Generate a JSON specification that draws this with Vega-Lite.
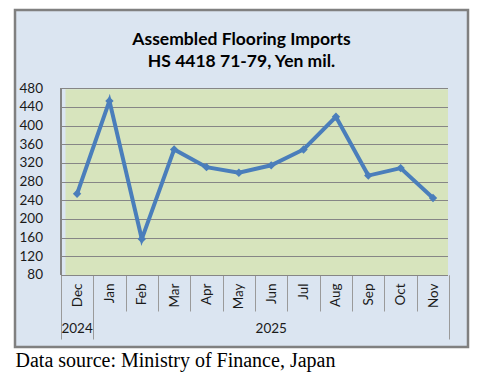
{
  "$schema": "https://vega.github.io/schema/vega-lite/v6.json",
  "width": 453,
  "height": 337,
  "autosize": {"type": "none"},
  "padding": {"left": 15, "top": 10, "right": 12, "bottom": 30},
  "background": "white",
  "config": {
    "view": {"fill": "#dbe5f1", "stroke": "#808080", "strokeWidth": 2.5},
    "axis": {"labelFont": "Lato", "labelFontSize": 13.5, "labelColor": "#1a1a1a", "grid": false, "domain": false}
  },
  "title": {
    "text": ["Assembled Flooring Imports", "HS 4418 71-79, Yen mil."],
    "font": "Lato",
    "fontSize": 17.5,
    "fontWeight": "bold",
    "color": "#000000",
    "anchor": "middle",
    "frame": "group",
    "lineHeight": 21.5,
    "offset": -60
  },
  "data": {
    "values": [
      {"month": "Dec", "value": 254},
      {"month": "Jan", "value": 453},
      {"month": "Feb", "value": 157},
      {"month": "Mar", "value": 349},
      {"month": "Apr", "value": 311},
      {"month": "May", "value": 299},
      {"month": "Jun", "value": 315},
      {"month": "Jul", "value": 349},
      {"month": "Aug", "value": 419},
      {"month": "Sep", "value": 293},
      {"month": "Oct", "value": 309},
      {"month": "Nov", "value": 245}
    ]
  },
  "layer": [
    {
      "mark": {"type": "rule", "color": "#868686", "strokeWidth": 1},
      "encoding": {
        "x": {
          "datum": "Dec",
          "type": "ordinal",
          "bandPosition": 0,
          "axis": {
            "orient": "bottom",
            "values": ["Dec", "Nov"],
            "tickBand": "extent",
            "offset": -72,
            "tickSize": 64,
            "tickColor": "#9a9a9a",
            "labels": false,
            "title": "Data source: Ministry of Finance, Japan",
            "titleFont": "Liberation Serif",
            "titleFontSize": 20,
            "titleFontWeight": "normal",
            "titleColor": "#000000",
            "titleAnchor": "start",
            "titleAlign": "left",
            "titleBaseline": "alphabetic",
            "titleX": 0,
            "titleY": 91.5
          }
        },
        "y": {
          "datum": 80,
          "type": "quantitative",
          "axis": {
            "orient": "left",
            "values": [280],
            "offset": -50,
            "tickSize": -382.5,
            "tickWidth": 186.7,
            "tickColor": "#d7e4bd",
            "tickCap": "butt",
            "labels": false,
            "title": null
          }
        },
        "y2": {"datum": 480}
      }
    },
    {
      "mark": {"type": "line", "color": "#4a7ebb", "strokeWidth": 4},
      "encoding": {
        "x": {
          "field": "month",
          "type": "ordinal",
          "scale": {
            "type": "band",
            "domain": ["Dec", "Jan", "Feb", "Mar", "Apr", "May", "Jun", "Jul", "Aug", "Sep", "Oct", "Nov"],
            "paddingInner": 0,
            "paddingOuter": 1.1059,
            "align": 0.7092
          },
          "axis": {
            "orient": "bottom",
            "offset": -72,
            "tickBand": "extent",
            "tickSize": 36,
            "tickColor": "#9a9a9a",
            "labelAngle": -90,
            "labelPadding": -28,
            "title": null
          }
        },
        "y": {
          "field": "value",
          "type": "quantitative",
          "scale": {"domain": [-74.26, 647.76], "nice": false, "zero": false},
          "axis": {
            "orient": "left",
            "values": [80, 120, 160, 200, 240, 280, 320, 360, 400, 440, 480],
            "offset": -45.5,
            "tickSize": -387,
            "tickColor": "#868686",
            "tickWidth": 1,
            "labelPadding": 405,
            "title": null
          }
        }
      }
    },
    {
      "mark": {"type": "point", "shape": "diamond", "filled": true, "size": 70, "color": "#4a7ebb", "opacity": 1},
      "encoding": {
        "x": {
          "field": "month",
          "type": "ordinal",
          "axis": {
            "orient": "bottom",
            "offset": -72,
            "values": ["Dec", "Jun"],
            "ticks": false,
            "labelAngle": 0,
            "labelPadding": 46,
            "labelExpr": "datum.value == 'Dec' ? '2024' : '2025'",
            "title": null
          }
        },
        "y": {"field": "value", "type": "quantitative", "axis": null}
      }
    }
  ],
  "resolve": {"axis": {"x": "independent", "y": "independent"}}
}
